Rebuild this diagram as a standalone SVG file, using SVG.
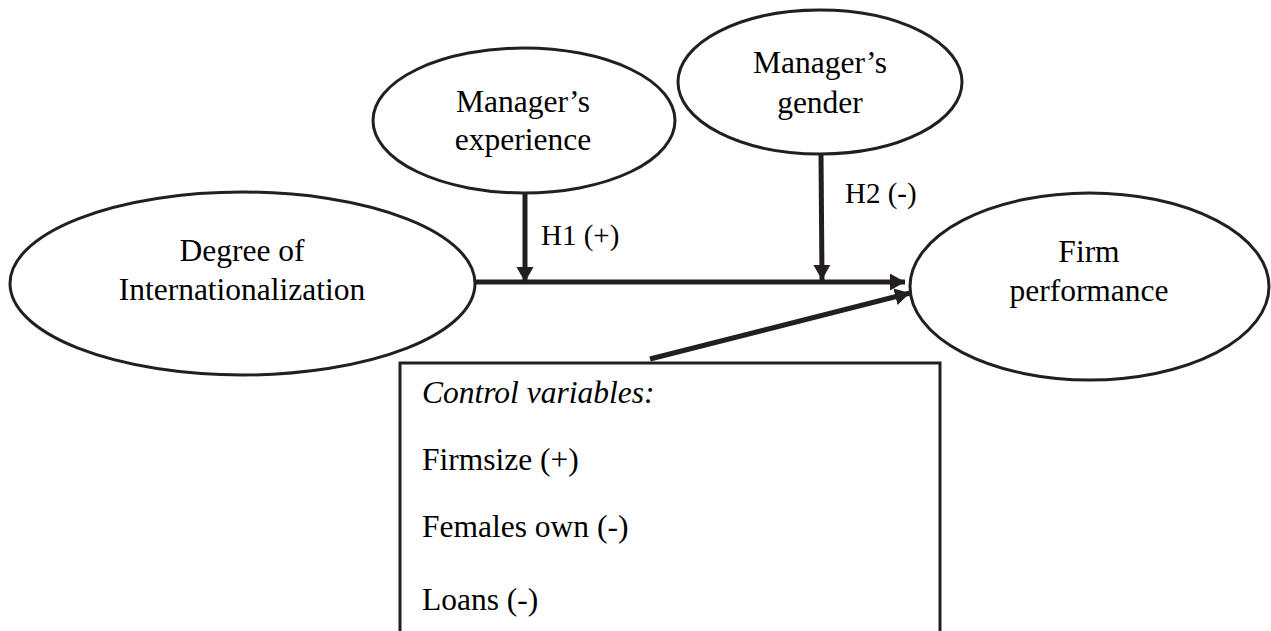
<svg xmlns="http://www.w3.org/2000/svg" width="1271" height="631" viewBox="0 0 1271 631">
  <defs>
    <style>
      .node { fill: #ffffff; stroke: #231f20; stroke-width: 3; }
      .lbl { font-family: "Liberation Serif", "Times New Roman", serif; font-size: 31.5px; fill: #000000; text-anchor: middle; }
      .hyp { font-family: "Liberation Serif", "Times New Roman", serif; font-size: 29px; fill: #000000; }
      .box { font-family: "Liberation Serif", "Times New Roman", serif; font-size: 31.5px; fill: #000000; }
      .edge { stroke: #231f20; stroke-width: 5; fill: none; }
    </style>
    <marker id="ah" markerUnits="userSpaceOnUse" markerWidth="16" markerHeight="18" refX="15" refY="8.5" orient="auto" viewBox="0 0 16 18">
      <path d="M0,0 L15,8.5 L0,17 z" fill="#231f20"/>
    </marker>
  </defs>
  <rect x="0" y="0" width="1271" height="631" fill="#ffffff"/>

  <g id="node-internationalization">
    <ellipse class="node" cx="242.5" cy="283.5" rx="232.5" ry="91.5"/>
    <text class="lbl" x="242" y="261">Degree of</text>
    <text class="lbl" x="242" y="300">Internationalization</text>
  </g>

  <g id="node-experience">
    <ellipse class="node" cx="524" cy="120.5" rx="151" ry="72.5"/>
    <text class="lbl" x="523" y="112">Manager’s</text>
    <text class="lbl" x="523" y="150">experience</text>
  </g>

  <g id="node-gender">
    <ellipse class="node" cx="820" cy="82" rx="142" ry="72"/>
    <text class="lbl" x="820" y="73">Manager’s</text>
    <text class="lbl" x="820" y="113">gender</text>
  </g>

  <g id="node-performance">
    <ellipse class="node" cx="1089.5" cy="286.5" rx="179.5" ry="93.5"/>
    <text class="lbl" x="1089" y="262">Firm</text>
    <text class="lbl" x="1089" y="301">performance</text>
  </g>

  <g id="node-controls">
    <rect class="node" x="400" y="363" width="540" height="290"/>
    <text class="box" x="422" y="403" font-style="italic">Control variables:</text>
    <text class="box" x="422" y="470">Firmsize (+)</text>
    <text class="box" x="422" y="537">Females own (-)</text>
    <text class="box" x="422" y="610">Loans (-)</text>
  </g>

  <g id="connectors">
    <line class="edge" x1="475" y1="282" x2="905" y2="282" marker-end="url(#ah)"/>
    <line class="edge" x1="525" y1="193" x2="525" y2="282" marker-end="url(#ah)"/>
    <line class="edge" x1="821" y1="154" x2="822" y2="280" marker-end="url(#ah)"/>
    <line class="edge" x1="650" y1="359" x2="910" y2="293" marker-end="url(#ah)" stroke-width="6"/>
    <text class="hyp" x="541" y="245">H1 (+)</text>
    <text class="hyp" x="845" y="203">H2 (-)</text>
  </g>
</svg>
